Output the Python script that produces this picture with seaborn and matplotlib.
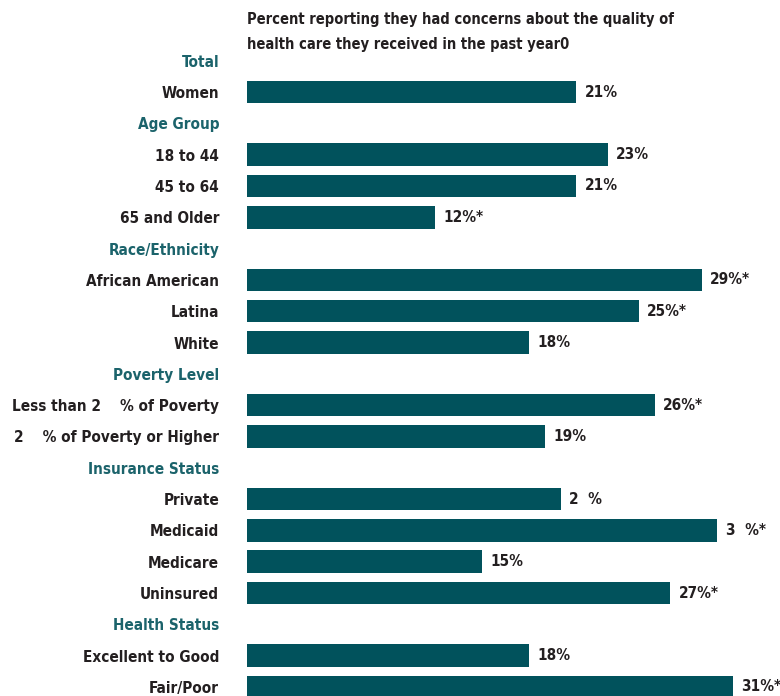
import matplotlib
matplotlib.use("Agg")
import matplotlib.pyplot as plt
from matplotlib import font_manager
import numpy as np
import pandas as pd
import seaborn as sns

# rows in display order; headers have no value
labels = ["Total", "Women",
          "Age Group", "18 to 44", "45 to 64", "65 and Older",
          "Race/Ethnicity", "African American", "Latina", "White",
          "Poverty Level", "Less than 2    % of Poverty", "2    % of Poverty or Higher",
          "Insurance Status", "Private", "Medicaid", "Medicare", "Uninsured",
          "Health Status", "Excellent to Good", "Fair/Poor"]
is_header = [True, False,
             True, False, False, False,
             True, False, False, False,
             True, False, False,
             True, False, False, False, False,
             True, False, False]
values = [np.nan, 21,
          np.nan, 23, 21, 12,
          np.nan, 29, 25, 18,
          np.nan, 26, 19,
          np.nan, 20, 30, 15, 27,
          np.nan, 18, 31]
value_text = ["", "21%",
              "", "23%", "21%", "12%*",
              "", "29%*", "25%*", "18%",
              "", "26%*", "19%",
              "", "2  %", "3  %*", "15%", "27%*",
              "", "18%", "31%*"]

title = ("Percent reporting they had concerns about the quality of\n"
         "health care they received in the past year0")

BAR = "#01525c"
HEAD = "#1b636b"
TEXT = "#231f20"

sns.set_theme(style="white")

# pick a narrow bold face if one is installed
fonts = font_manager.fontManager.ttflist
names = {f.name for f in fonts}
has_cond = any(f.name == "DejaVu Sans" and f.stretch in ("condensed", 600, "semi-condensed") for f in fonts)
if "Liberation Sans Narrow" in names:
    plt.rcParams['font.family'] = ['Liberation Sans Narrow', 'DejaVu Sans']
    FS, TFS = 12, 11.5
elif has_cond:
    plt.rcParams['font.family'] = ['DejaVu Sans']
    plt.rcParams['font.stretch'] = 'condensed'
    FS, TFS = 11, 10.5
else:
    plt.rcParams['font.family'] = ['DejaVu Sans']
    FS, TFS = 9.8, 9.4
plt.rcParams['font.weight'] = 'bold'

# header rows get an empty (zero length) bar
df = pd.DataFrame({"row": [str(i) for i in range(len(labels))],
                   "value": pd.Series(values).fillna(0)})

fig = plt.figure(figsize=(7.8, 6.96), dpi=100)
ax = fig.add_axes([247 / 780, -6.65 / 696, 533 / 780, 657.6 / 696])

sns.barplot(data=df, y="row", x="value", orient="h", color=BAR,
            saturation=1, width=0.72, ax=ax, errorbar=None, linewidth=0)

ax.set_xlim(0, 34)
ax.set_ylim(len(labels) - 0.5, -0.5)
ax.set_xlabel("")
ax.set_ylabel("")
ax.set_xticks([])
ax.set_yticks(range(len(labels)))
ax.set_yticklabels(labels, fontsize=FS, fontweight="bold")
for tl, h in zip(ax.get_yticklabels(), is_header):
    tl.set_color(HEAD if h else TEXT)
ax.tick_params(axis="y", length=0, pad=20)
for s in ax.spines.values():
    s.set_visible(False)

bars = ax.containers[0]
ax.bar_label(bars, labels=value_text, padding=6, fontsize=FS,
             fontweight="bold", color=TEXT)

fig.text(247 / 780, 1 - 12 / 696, title, ha="left", va="top", fontsize=TFS,
         fontweight="bold", color=TEXT, linespacing=1.8)

fig.savefig("out.png", dpi=100)
